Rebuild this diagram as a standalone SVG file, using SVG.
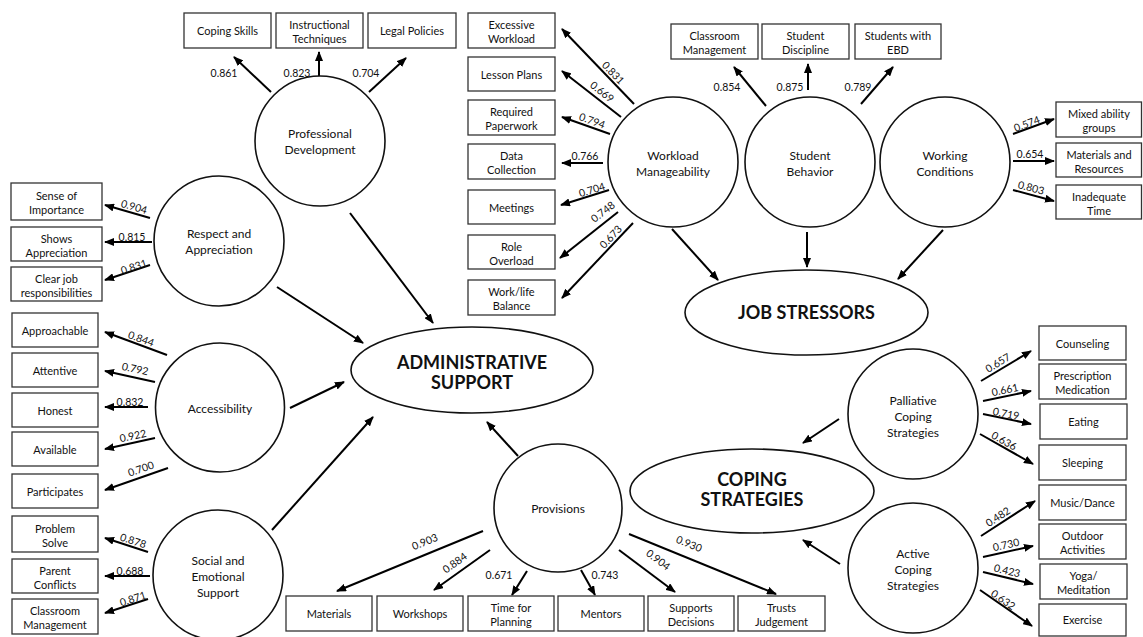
<svg xmlns="http://www.w3.org/2000/svg" width="1143" height="637" viewBox="0 0 1143 637">
<style>
.bg{fill:#fff}
rect.b{fill:#fff;stroke:#333;stroke-width:1.3}
circle.c,ellipse.e{fill:#fff;stroke:#111;stroke-width:1.6}
text{font-family:Lato,"Open Sans","Liberation Sans",sans-serif;fill:#111;text-anchor:middle}
.t{font-size:11px}
.ct{font-size:12px}
.n{font-size:10.5px}
.big{font-size:18px;font-weight:bold}
#connectors line{stroke:#000;stroke-width:2;marker-end:url(#ah)}
</style>
<defs>
<marker id="ah" markerUnits="userSpaceOnUse" markerWidth="10" markerHeight="8" refX="9" refY="4" orient="auto">
<path d="M0,0 L10,4 L0,8 z" fill="#000"/>
</marker>
</defs>
<rect class="bg" x="0" y="0" width="1143" height="637"/>

<g id="connectors">
<line x1="271" y1="92" x2="234" y2="57"/>
<line x1="319" y1="76" x2="319" y2="52"/>
<line x1="369" y1="92" x2="406" y2="58"/>
<line x1="350" y1="213" x2="433" y2="323"/>
<line x1="634" y1="104" x2="562" y2="29"/>
<line x1="621" y1="117" x2="562" y2="71"/>
<line x1="610" y1="134" x2="562" y2="117"/>
<line x1="603" y1="163" x2="562" y2="163"/>
<line x1="609" y1="190" x2="561" y2="205"/>
<line x1="618" y1="212" x2="560" y2="258"/>
<line x1="633" y1="223" x2="562" y2="298"/>
<line x1="672" y1="229" x2="718" y2="280"/>
<line x1="766" y1="106" x2="734" y2="67"/>
<line x1="808" y1="90" x2="808" y2="64"/>
<line x1="861" y1="104" x2="893" y2="67"/>
<line x1="807" y1="232" x2="807" y2="267"/>
<line x1="1013" y1="134" x2="1054" y2="119"/>
<line x1="1013" y1="161" x2="1054" y2="161"/>
<line x1="1013" y1="190" x2="1054" y2="201"/>
<line x1="943" y1="230" x2="898" y2="279"/>
<line x1="150" y1="218" x2="105" y2="205"/>
<line x1="152" y1="242" x2="105" y2="242"/>
<line x1="150" y1="265" x2="105" y2="280"/>
<line x1="277" y1="287" x2="363" y2="343"/>
<line x1="167" y1="355" x2="105" y2="332"/>
<line x1="155" y1="382" x2="105" y2="371"/>
<line x1="148" y1="407" x2="105" y2="407"/>
<line x1="155" y1="438" x2="105" y2="449"/>
<line x1="168" y1="468" x2="105" y2="490"/>
<line x1="290" y1="408" x2="344" y2="382"/>
<line x1="148" y1="552" x2="105" y2="538"/>
<line x1="150" y1="576" x2="105" y2="576"/>
<line x1="148" y1="599" x2="105" y2="613"/>
<line x1="272" y1="530" x2="373" y2="417"/>
<line x1="518" y1="456" x2="487" y2="422"/>
<line x1="483" y1="531" x2="337" y2="591"/>
<line x1="490" y1="550" x2="434" y2="590"/>
<line x1="527" y1="571" x2="512" y2="595"/>
<line x1="581" y1="570" x2="595" y2="595"/>
<line x1="619" y1="550" x2="675" y2="592"/>
<line x1="629" y1="534" x2="776" y2="594"/>
<line x1="981" y1="381" x2="1031" y2="351"/>
<line x1="983" y1="401" x2="1031" y2="391"/>
<line x1="983" y1="414" x2="1031" y2="424"/>
<line x1="980" y1="434" x2="1033" y2="464"/>
<line x1="839" y1="419" x2="803" y2="443"/>
<line x1="981" y1="536" x2="1035" y2="501"/>
<line x1="983" y1="557" x2="1033" y2="546"/>
<line x1="983" y1="572" x2="1033" y2="584"/>
<line x1="980" y1="590" x2="1032" y2="626"/>
<line x1="840" y1="564" x2="803" y2="540"/>
</g>

<g id="labels" class="n">
<text x="224" y="77">0.861</text>
<text x="297" y="77">0.823</text>
<text x="366" y="77">0.704</text>
<text transform="translate(613,73) rotate(46)" y="3.5">0.831</text>
<text transform="translate(602,92) rotate(38)" y="3.5">0.669</text>
<text transform="translate(592,121) rotate(19.5)" y="3.5">0.794</text>
<text x="585" y="160">0.766</text>
<text transform="translate(592,190) rotate(-17)" y="3.5">0.704</text>
<text transform="translate(603,212) rotate(-38)" y="3.5">0.748</text>
<text transform="translate(611,237) rotate(-46.6)" y="3.5">0.673</text>
<text x="727" y="91">0.854</text>
<text x="790" y="91">0.875</text>
<text x="858" y="91">0.789</text>
<text transform="translate(1027,124) rotate(-20)" y="3.5">0.574</text>
<text x="1030" y="158">0.654</text>
<text transform="translate(1031,188) rotate(15)" y="3.5">0.803</text>
<text transform="translate(134,207) rotate(16)" y="3.5">0.904</text>
<text x="132" y="241">0.815</text>
<text transform="translate(134,267) rotate(-18)" y="3.5">0.831</text>
<text transform="translate(141,339) rotate(20)" y="3.5">0.844</text>
<text transform="translate(135,369) rotate(12)" y="3.5">0.792</text>
<text x="130" y="406">0.832</text>
<text transform="translate(133,436) rotate(-12)" y="3.5">0.922</text>
<text transform="translate(141,469) rotate(-19)" y="3.5">0.700</text>
<text transform="translate(133,541) rotate(18)" y="3.5">0.878</text>
<text x="130" y="575">0.688</text>
<text transform="translate(133,599) rotate(-18)" y="3.5">0.871</text>
<text transform="translate(425,542) rotate(-22)" y="3.5">0.903</text>
<text transform="translate(455,563) rotate(-35.5)" y="3.5">0.884</text>
<text x="499" y="579">0.671</text>
<text x="605" y="579">0.743</text>
<text transform="translate(658,560) rotate(37)" y="3.5">0.904</text>
<text transform="translate(689,544) rotate(22)" y="3.5">0.930</text>
<text transform="translate(998,363) rotate(-31)" y="3.5">0.657</text>
<text transform="translate(1005,390) rotate(-12)" y="3.5">0.661</text>
<text transform="translate(1006,414) rotate(11)" y="3.5">0.719</text>
<text transform="translate(1004,441) rotate(29.5)" y="3.5">0.636</text>
<text transform="translate(998,517) rotate(-33)" y="3.5">0.482</text>
<text transform="translate(1006,545) rotate(-12.4)" y="3.5">0.730</text>
<text transform="translate(1007,571) rotate(13.5)" y="3.5">0.423</text>
<text transform="translate(1003,600) rotate(34.7)" y="3.5">0.632</text>
</g>

<g id="admin-support"><ellipse class="e" cx="472" cy="370" rx="121" ry="43"/><text class="big" x="472" y="369">ADMINISTRATIVE</text><text class="big" x="472" y="389">SUPPORT</text></g>
<g id="job-stressors"><ellipse class="e" cx="806.5" cy="312.5" rx="121.5" ry="42.5"/><text class="big" x="806.5" y="319">JOB STRESSORS</text></g>
<g id="coping-strategies"><ellipse class="e" cx="752" cy="491" rx="122" ry="42"/><text class="big" x="752" y="486">COPING</text><text class="big" x="752" y="506">STRATEGIES</text></g>

<g id="professional-development"><circle class="c" cx="320" cy="141" r="65"/><text class="ct" x="320" y="138">Professional</text><text class="ct" x="320" y="154">Development</text></g>
<g id="respect-appreciation"><circle class="c" cx="219" cy="241" r="65"/><text class="ct" x="219" y="238">Respect and</text><text class="ct" x="219" y="254">Appreciation</text></g>
<g id="accessibility"><circle class="c" cx="220" cy="407.5" r="64.5"/><text class="ct" x="220" y="413">Accessibility</text></g>
<g id="social-emotional"><circle class="c" cx="218" cy="575" r="65"/><text class="ct" x="218" y="565">Social and</text><text class="ct" x="218" y="581">Emotional</text><text class="ct" x="218" y="596.5">Support</text></g>
<g id="provisions"><circle class="c" cx="558" cy="508" r="64"/><text class="ct" x="558" y="512.5">Provisions</text></g>
<g id="workload"><circle class="c" cx="673" cy="162" r="65"/><text class="ct" x="673" y="160">Workload</text><text class="ct" x="673" y="176">Manageability</text></g>
<g id="student-behavior"><circle class="c" cx="810" cy="162" r="65"/><text class="ct" x="810" y="160">Student</text><text class="ct" x="810" y="176">Behavior</text></g>
<g id="working-conditions"><circle class="c" cx="945" cy="162" r="65"/><text class="ct" x="945" y="160">Working</text><text class="ct" x="945" y="176">Conditions</text></g>
<g id="palliative"><circle class="c" cx="913" cy="414" r="65"/><text class="ct" x="913" y="405">Palliative</text><text class="ct" x="913" y="421">Coping</text><text class="ct" x="913" y="436.5">Strategies</text></g>
<g id="active"><circle class="c" cx="913" cy="568" r="65"/><text class="ct" x="913" y="558">Active</text><text class="ct" x="913" y="574">Coping</text><text class="ct" x="913" y="589.5">Strategies</text></g>

<g id="box-coping-skills" class="t"><rect class="b" x="184" y="13" width="87" height="35"/><text x="227.5" y="35">Coping Skills</text></g>
<g id="box-instructional" class="t"><rect class="b" x="276" y="13" width="87" height="35"/><text x="319.5" y="29">Instructional</text><text x="319.5" y="43">Techniques</text></g>
<g id="box-legal" class="t"><rect class="b" x="368" y="13" width="88" height="35"/><text x="412" y="35">Legal Policies</text></g>

<g id="box-excessive" class="t"><rect class="b" x="468" y="13" width="87" height="35"/><text x="511.5" y="29">Excessive</text><text x="511.5" y="43">Workload</text></g>
<g id="box-lesson" class="t"><rect class="b" x="468" y="57" width="87" height="34"/><text x="511.5" y="78.5">Lesson Plans</text></g>
<g id="box-paperwork" class="t"><rect class="b" x="468" y="100" width="87" height="35"/><text x="511.5" y="116">Required</text><text x="511.5" y="130">Paperwork</text></g>
<g id="box-data" class="t"><rect class="b" x="468" y="144" width="87" height="35"/><text x="511.5" y="160">Data</text><text x="511.5" y="174">Collection</text></g>
<g id="box-meetings" class="t"><rect class="b" x="468" y="190" width="87" height="34"/><text x="511.5" y="211.5">Meetings</text></g>
<g id="box-role" class="t"><rect class="b" x="468" y="235" width="87" height="34"/><text x="511.5" y="250.5">Role</text><text x="511.5" y="264.5">Overload</text></g>
<g id="box-worklife" class="t"><rect class="b" x="468" y="280" width="87" height="35"/><text x="511.5" y="296">Work/life</text><text x="511.5" y="310">Balance</text></g>

<g id="box-classroom-mgmt" class="t"><rect class="b" x="671" y="24" width="87" height="35"/><text x="714.5" y="40">Classroom</text><text x="714.5" y="54">Management</text></g>
<g id="box-discipline" class="t"><rect class="b" x="762" y="24" width="87" height="35"/><text x="805.5" y="40">Student</text><text x="805.5" y="54">Discipline</text></g>
<g id="box-ebd" class="t"><rect class="b" x="855" y="24" width="86" height="35"/><text x="898" y="40">Students with</text><text x="898" y="54">EBD</text></g>

<g id="box-mixed" class="t"><rect class="b" x="1056" y="102" width="85.5" height="35"/><text x="1099" y="118">Mixed ability</text><text x="1099" y="132">groups</text></g>
<g id="box-materials-res" class="t"><rect class="b" x="1056" y="143" width="85.5" height="34"/><text x="1099" y="158.5">Materials and</text><text x="1099" y="172.5">Resources</text></g>
<g id="box-inadequate" class="t"><rect class="b" x="1056" y="185" width="85.5" height="34"/><text x="1099" y="200.5">Inadequate</text><text x="1099" y="214.5">Time</text></g>

<g id="box-importance" class="t"><rect class="b" x="11" y="183" width="91" height="37"/><text x="56.5" y="200">Sense of</text><text x="56.5" y="214">Importance</text></g>
<g id="box-shows" class="t"><rect class="b" x="11" y="227" width="91" height="34"/><text x="56.5" y="242.5">Shows</text><text x="56.5" y="256.5">Appreciation</text></g>
<g id="box-clear" class="t"><rect class="b" x="11" y="267" width="91" height="34"/><text x="56.5" y="282.5">Clear job</text><text x="56.5" y="296.5">responsibilities</text></g>

<g id="box-approachable" class="t"><rect class="b" x="12" y="313" width="86" height="34"/><text x="55" y="334.5">Approachable</text></g>
<g id="box-attentive" class="t"><rect class="b" x="12" y="353" width="86" height="34"/><text x="55" y="374.5">Attentive</text></g>
<g id="box-honest" class="t"><rect class="b" x="12" y="393" width="86" height="34"/><text x="55" y="414.5">Honest</text></g>
<g id="box-available" class="t"><rect class="b" x="12" y="432" width="86" height="34"/><text x="55" y="453.5">Available</text></g>
<g id="box-participates" class="t"><rect class="b" x="12" y="474" width="86" height="34"/><text x="55" y="495.5">Participates</text></g>

<g id="box-problem" class="t"><rect class="b" x="12" y="516" width="86" height="36"/><text x="55" y="532.5">Problem</text><text x="55" y="546.5">Solve</text></g>
<g id="box-parent" class="t"><rect class="b" x="12" y="559" width="86" height="34"/><text x="55" y="574.5">Parent</text><text x="55" y="588.5">Conflicts</text></g>
<g id="box-classroom-mgmt-2" class="t"><rect class="b" x="12" y="599" width="86" height="35"/><text x="55" y="615">Classroom</text><text x="55" y="629">Management</text></g>

<g id="box-materials" class="t"><rect class="b" x="286" y="596" width="86" height="35"/><text x="329" y="618">Materials</text></g>
<g id="box-workshops" class="t"><rect class="b" x="377" y="596" width="86" height="35"/><text x="420" y="618">Workshops</text></g>
<g id="box-time" class="t"><rect class="b" x="468" y="596" width="86" height="35"/><text x="511" y="612">Time for</text><text x="511" y="626">Planning</text></g>
<g id="box-mentors" class="t"><rect class="b" x="558" y="596" width="86" height="35"/><text x="601" y="618">Mentors</text></g>
<g id="box-supports" class="t"><rect class="b" x="648" y="596" width="86" height="35"/><text x="691" y="612">Supports</text><text x="691" y="626">Decisions</text></g>
<g id="box-trusts" class="t"><rect class="b" x="738" y="596" width="87" height="35"/><text x="781.5" y="612">Trusts</text><text x="781.5" y="626">Judgement</text></g>

<g id="box-counseling" class="t"><rect class="b" x="1039" y="326" width="87" height="34"/><text x="1082.5" y="347.5">Counseling</text></g>
<g id="box-prescription" class="t"><rect class="b" x="1039" y="364" width="87" height="35"/><text x="1082.5" y="380">Prescription</text><text x="1082.5" y="394">Medication</text></g>
<g id="box-eating" class="t"><rect class="b" x="1040" y="404" width="87" height="35"/><text x="1083.5" y="426">Eating</text></g>
<g id="box-sleeping" class="t"><rect class="b" x="1039" y="445" width="87" height="35"/><text x="1082.5" y="467">Sleeping</text></g>

<g id="box-music" class="t"><rect class="b" x="1039" y="485" width="87" height="35"/><text x="1082.5" y="507">Music/Dance</text></g>
<g id="box-outdoor" class="t"><rect class="b" x="1039" y="524" width="87" height="35"/><text x="1082.5" y="540">Outdoor</text><text x="1082.5" y="554">Activities</text></g>
<g id="box-yoga" class="t"><rect class="b" x="1040" y="564" width="87" height="35"/><text x="1083.5" y="580">Yoga/</text><text x="1083.5" y="594">Meditation</text></g>
<g id="box-exercise" class="t"><rect class="b" x="1039" y="604" width="87" height="32"/><text x="1082.5" y="624">Exercise</text></g>
</svg>
